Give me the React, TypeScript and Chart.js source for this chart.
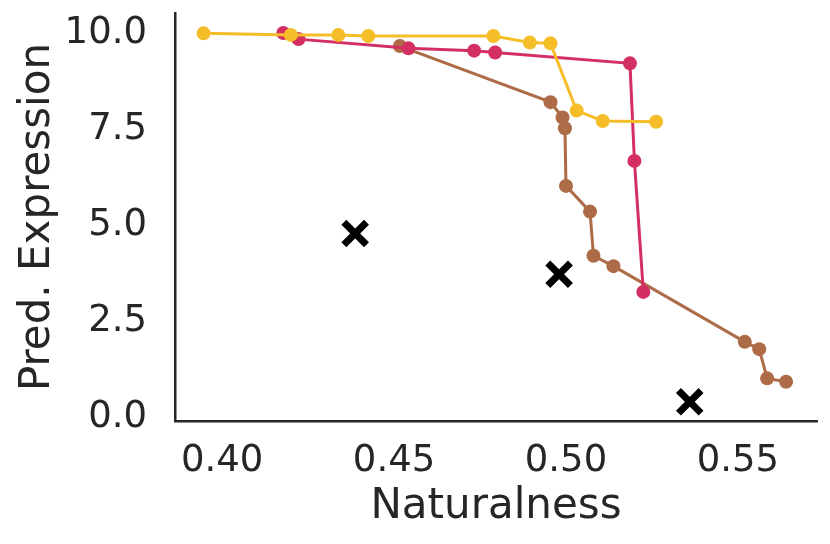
import { useEffect, useRef } from "react";
import { Chart, registerables } from "chart.js";

Chart.register(...registerables);

// values
const brownX = [0.4517, 0.4955, 0.499, 0.4997, 0.5, 0.507, 0.508, 0.5138, 0.552, 0.5562, 0.5585, 0.564];
const brownY = [9.66, 8.2, 7.8, 7.52, 6.02, 5.35, 4.2, 3.93, 1.96, 1.77, 1.01, 0.92];

const redX = [0.4178, 0.4222, 0.4542, 0.4733, 0.4794, 0.5186, 0.5199, 0.5225];
const redY = [10.0, 9.84, 9.6, 9.54, 9.49, 9.21, 6.67, 3.26];

const yellowX = [0.3946, 0.42, 0.4338, 0.4425, 0.4789, 0.4895, 0.4955, 0.5031, 0.5107, 0.5262];
const yellowY = [9.99, 9.95, 9.95, 9.92, 9.92, 9.75, 9.73, 7.98, 7.71, 7.69];

const crossX = [0.4387, 0.498, 0.536];
const crossY = [4.78, 3.72, 0.4];

const xTicks = [0.4, 0.45, 0.5, 0.55];
const yTicks = [0, 2.5, 5, 7.5, 10];

const INK = "#262626";
const FONT = "DejaVu Sans";

const pts = (xs: number[], ys: number[]) => xs.map((x, i) => ({ x, y: ys[i] }));

const lineSet = (xs: number[], ys: number[], color: string) => ({
  data: pts(xs, ys),
  borderColor: color,
  backgroundColor: color,
  borderWidth: 3,
  pointRadius: 7,
  pointBorderWidth: 0,
  pointBackgroundColor: color,
  showLine: true,
  tension: 0,
});

export default function App() {
  const ref = useRef<HTMLCanvasElement | null>(null);

  useEffect(() => {
    document.body.style.margin = "0";
    if (!ref.current) return;

    const chart = new Chart(ref.current, {
      type: "scatter",
      data: {
        datasets: [
          {
            data: pts(crossX, crossY),
            pointStyle: "crossRot",
            pointRadius: 16,
            pointBorderWidth: 7,
            borderColor: "#000",
            backgroundColor: "#000",
            showLine: false,
          },
          lineSet(yellowX, yellowY, "#f5bd27"),
          lineSet(redX, redY, "#d42f62"),
          lineSet(brownX, brownY, "#ae6b47"),
        ],
      },
      options: {
        animation: false,
        responsive: false,
        devicePixelRatio: 1,
        layout: { autoPadding: false, padding: { left: 0, top: 13, right: 13, bottom: 0 } },
        plugins: { legend: { display: false }, tooltip: { enabled: false } },
        scales: {
          x: {
            type: "linear",
            min: 0.3863,
            max: 0.573,
            grid: { display: false },
            border: { display: true, color: INK, width: 2.5 },
            afterBuildTicks: (s: any) => {
              s.ticks = xTicks.map((v) => ({ value: v }));
            },
            afterFit: (s: any) => {
              s.height = 123;
              s.paddingLeft = 0;
              s.paddingRight = 0;
            },
            ticks: {
              color: INK,
              padding: 10,
              font: { family: FONT, size: 37 },
              callback: (v: any) => Number(v).toFixed(2),
            },
            title: {
              display: true,
              text: "Naturalness",
              color: INK,
              font: { family: FONT, size: 42 },
              padding: { top: 0, bottom: 12 },
            },
          },
          y: {
            type: "linear",
            min: -0.1,
            max: 10.52,
            grid: { display: false },
            border: { display: true, color: INK, width: 2.5 },
            afterBuildTicks: (s: any) => {
              s.ticks = yTicks.map((v) => ({ value: v }));
            },
            afterFit: (s: any) => {
              s.width = 175;
              s.paddingTop = 0;
              s.paddingBottom = 0;
            },
            ticks: {
              color: INK,
              padding: 20,
              font: { family: FONT, size: 37 },
              callback: (v: any) => Number(v).toFixed(1),
            },
            title: {
              display: true,
              text: "Pred. Expression",
              color: INK,
              font: { family: FONT, size: 42 },
              padding: { top: 13, bottom: 0 },
            },
          },
        },
      },
    });

    return () => chart.destroy();
  }, []);

  return (
    <div style={{ width: 830, height: 544 }}>
      <canvas ref={ref} width={830} height={544} />
    </div>
  );
}
